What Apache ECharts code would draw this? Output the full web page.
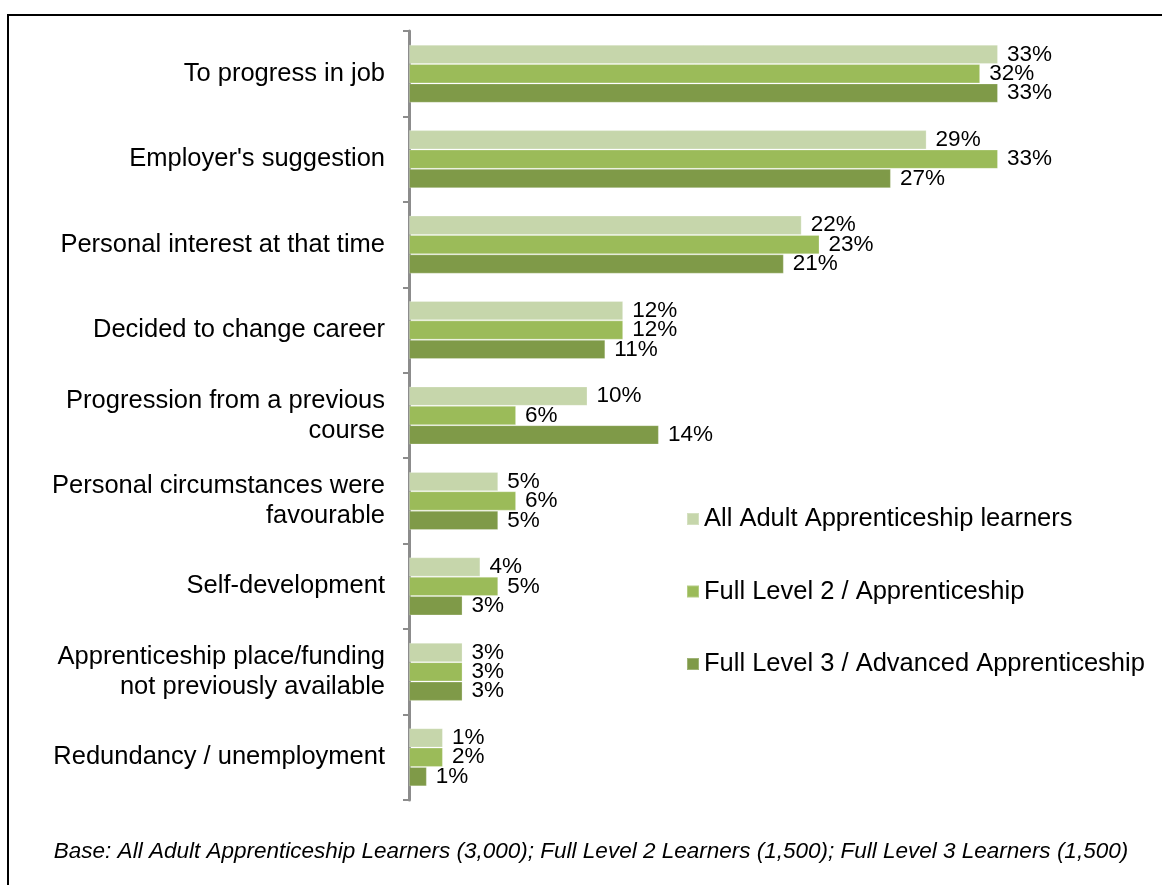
<!DOCTYPE html>
<html>
<head>
<meta charset="utf-8">
<script src="https://cdn.jsdelivr.net/npm/echarts@6/dist/echarts.min.js"></script>
<style>
html,body{margin:0;padding:0;background:#fff;}
#chart{width:1162px;height:885px;}
</style>
</head>
<body>
<div id="chart"></div>
<script>
const categories = [
  "To progress in job",
  "Employer's suggestion",
  "Personal interest at that time",
  "Decided to change career",
  "Progression from a previous\ncourse",
  "Personal circumstances were\nfavourable",
  "Self-development",
  "Apprenticeship place/funding\nnot previously available",
  "Redundancy / unemployment"
];
const seriesNames = [
  "All Adult Apprenticeship learners",
  "Full Level 2 / Apprenticeship",
  "Full Level 3 / Advanced Apprenticeship"
];
const allAdult = [33, 29, 22, 12, 10, 5, 4, 3, 1.9];
const level2   = [32, 33, 23, 12, 6, 6, 5, 3, 1.9];
const level3   = [33, 27, 21, 11, 14, 5, 3, 3, 1];
const allAdultLabels = ["33%","29%","22%","12%","10%","5%","4%","3%","1%"];
const level2Labels   = ["32%","33%","23%","12%","6%","6%","5%","3%","2%"];
const level3Labels   = ["33%","27%","21%","11%","14%","5%","3%","3%","1%"];
const footnote = "Base: All Adult Apprenticeship Learners (3,000); Full Level 2 Learners (1,500); Full Level 3 Learners (1,500)";

const colors = ["#C6D6AB", "#9BBB59", "#7F9A48"];
const FONT = "'Liberation Sans', Arial, sans-serif";

function mk(name, values, labels, color) {
  return {
    name: name,
    type: 'bar',
    data: values,
    barGap: '0%',
    barCategoryGap: '32%',
    itemStyle: { color: color, borderColor: 'rgba(255,255,255,0.25)', borderWidth: 1 },
    label: {
      show: true,
      position: 'right',
      distance: 9,
      color: '#000',
      fontFamily: FONT,
      fontSize: 22.5,
      formatter: p => labels[p.dataIndex]
    },
    emphasis: { disabled: true },
    animation: false
  };
}

const chart = echarts.init(document.getElementById('chart'), null, { renderer: 'canvas' });
chart.setOption({
  animation: false,
  backgroundColor: '#fff',
  grid: { left: 409, top: 31, width: 589, height: 769, containLabel: false },
  xAxis: {
    type: 'value', min: 0, max: 33, show: false,
    splitLine: { show: false }
  },
  yAxis: {
    type: 'category',
    data: categories,
    inverse: true,
    axisLine: { show: true, lineStyle: { color: '#8c8c8c', width: 3 } },
    axisTick: { show: true, length: 6, inside: false, lineStyle: { color: '#8c8c8c', width: 2 } },
    axisLabel: {
      color: '#000', fontFamily: FONT, fontSize: 25.5, margin: 24,
      lineHeight: 30, align: 'right', interval: 0
    }
  },
  legend: {
    orient: 'vertical',
    left: 686, top: 506,
    padding: 0,
    itemWidth: 12, itemHeight: 12,
    itemGap: 46.5,
    icon: 'rect',
    selectedMode: false,
    textStyle: { color: '#000', fontFamily: FONT, fontSize: 25.5 },
    data: seriesNames
  },
  series: [
    mk(seriesNames[0], allAdult, allAdultLabels, colors[0]),
    mk(seriesNames[1], level2, level2Labels, colors[1]),
    mk(seriesNames[2], level3, level3Labels, colors[2])
  ],
  graphic: [
    {
      type: 'rect', silent: true,
      shape: { x: 8, y: 15, width: 1300, height: 1000 },
      style: { fill: 'none', stroke: '#000', lineWidth: 2 }
    },
    {
      type: 'text', silent: true,
      x: 591, y: 852,
      style: {
        text: footnote, fill: '#000', font: 'italic 22.5px ' + FONT,
        textAlign: 'center', textVerticalAlign: 'middle'
      }
    }
  ]
});
</script>
</body>
</html>
